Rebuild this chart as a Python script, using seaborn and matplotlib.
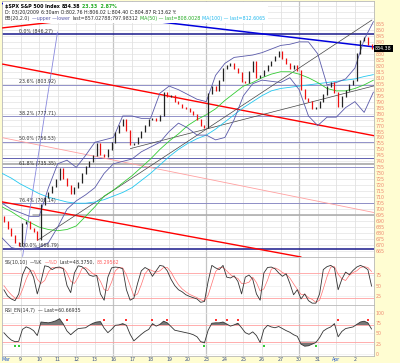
import matplotlib

matplotlib.use("Agg")

import matplotlib.pyplot as plt
import numpy as np
import pandas as pd
import seaborn as sns
from matplotlib.offsetbox import AnchoredOffsetbox, HPacker, TextArea, VPacker
from matplotlib.ticker import FuncFormatter

# trading days shown (Mar 6 .. Apr 2), 5 price bars per day
DAY_LABELS = ["Mar", "9", "10", "11", "12", "13", "16", "17", "18", "19", "20",
              "23", "24", "25", "26", "27", "30", "31", "Apr", "2"]
BARS_PER_DAY = 5
FIRST_OPEN = 694

CLOSE = [
    690, 684, 678, 672, 670,
    688, 690, 684, 681, 675,
    704, 710, 714, 719, 725,
    734, 726, 720, 713, 718,
    722, 730, 736, 740, 745,
    755, 746, 744, 750, 756,
    764, 770, 775, 766, 754,
    755, 760, 765, 770, 775,
    776, 774, 778, 798, 794,
    795, 790, 788, 785, 784,
    782, 779, 775, 770, 768,
    797, 803, 799, 808, 818,
    820, 822, 818, 814, 807,
    806, 815, 824, 810, 812,
    816, 820, 824, 828, 832,
    826, 822, 818, 820, 816,
    800, 793, 790, 784, 785,
    790, 796, 803, 806, 798,
    786, 794, 799, 804, 808,
    830, 841, 844, 838, 834.38,
]

# half-day samples of the overlays
BB_UPPER = [705, 700, 697, 694, 694, 718, 738, 741, 735, 745, 756, 758, 760, 778,
            778, 776, 776, 797, 803, 800, 796, 792, 790, 812, 822, 827, 828, 829,
            831, 834, 837, 838, 840, 840, 830, 804, 806, 809, 818, 842, 857]
BB_LOWER = [676, 668, 666, 667, 668, 672, 685, 700, 707, 712, 718, 730, 738, 740,
            742, 748, 752, 756, 765, 772, 768, 762, 762, 758, 760, 775, 795, 805,
            808, 807, 806, 810, 800, 778, 770, 777, 777, 785, 790, 781, 798]
MA50 = [702, 698, 693, 689, 685, 683, 682, 683, 686, 694, 702, 711, 716, 722, 728,
        735, 742, 750, 757, 763, 770, 775, 779, 784, 791, 797, 803, 806, 810, 813,
        815, 815, 813, 810, 806, 801, 799, 799, 801, 804, 808]
MA100 = [730, 726, 721, 717, 713, 710, 708, 706, 705, 705, 706, 708, 711, 714, 718,
         724, 730, 737, 744, 750, 755, 759, 762, 767, 773, 779, 785, 790, 795, 799,
         801, 802, 803, 804, 805, 806, 807, 808, 809, 811, 812.6]

# fibonacci retracement levels and other horizontal levels
FIB_PCT = ["0.0%", "23.6%", "38.2%", "50.0%", "61.8%", "76.4%", "100.0%"]
FIB_LEVEL = [846.27, 803.92, 777.71, 756.53, 735.35, 705.0, 666.79]
FIB_TEXT = [846.27, 803.92, 777.71, 756.53, 735.35, 709.14, 666.79]
NAVY_LEVELS = [742.5]
GRAY_LEVELS = [737.5]
GRAY_SHORT = (1.65, 695.0)

# trend lines: (day0, price0, day1, price1)
RED_THICK = [(0.03, 851.7, 10.0, 869.5), (0.03, 821.4, 20.03, 761.5),
             (-0.1, 706.4, 16.1, 660.0)]
PINK_THIN = [(0.03, 759.8, 20.03, 697.2)]
BLUE_THICK = [(0.0, 872.1, 20.03, 835.8)]
BLACK_THIN = [(1.91, 673.9, 19.92, 858.3), (6.91, 750.7, 20.03, 803.2)]
SLATE_THIN = [(1.11, 660.5, 2.99, 848.3)]

# full stochastic, one value per bar
STO_K = [40, 25, 18, 14, 30, 75, 95, 88, 70, 30, 60, 97, 95, 88, 93, 94, 90, 50, 33, 80,
         97, 95, 88, 75, 72, 74, 30, 15, 70, 92, 94, 93, 90, 40, 15, 20, 55, 85, 93, 88,
         72, 85, 98, 96, 85, 65, 50, 40, 35, 28, 24, 21, 18, 10, 12, 60, 98, 92, 88, 98,
         70, 68, 73, 60, 30, 70, 75, 65, 30, 15, 80, 93, 94, 90, 80, 72, 78, 55, 28, 40,
         18, 30, 14, 8, 8, 30, 88, 95, 98, 92, 40, 65, 82, 76, 86, 94, 98, 94, 88, 48.4]
STO_D = [50, 38, 28, 20, 20, 40, 65, 85, 85, 65, 55, 62, 82, 93, 92, 92, 92, 80, 60, 55,
         70, 90, 93, 86, 78, 74, 60, 40, 38, 58, 85, 93, 92, 75, 50, 25, 30, 52, 78, 89,
         85, 82, 85, 93, 93, 82, 66, 52, 42, 35, 29, 25, 21, 16, 13, 27, 55, 83, 93, 93,
         85, 76, 70, 67, 55, 55, 58, 70, 57, 37, 42, 63, 89, 92, 88, 81, 77, 68, 54, 41,
         29, 29, 21, 17, 10, 15, 42, 71, 94, 95, 77, 66, 62, 74, 81, 85, 93, 95, 93, 83.3]

RSI = [52, 42, 34, 30, 31, 60, 66, 63, 57, 45, 78, 77, 76, 78, 81, 86, 73, 56, 47, 55,
       62, 63, 64, 70, 75, 78, 79, 63, 52, 60, 70, 71, 74, 70, 48, 32, 40, 48, 55, 60,
       74, 68, 72, 80, 76, 67, 58, 56, 54, 52, 50, 47, 42, 30, 27, 58, 75, 76, 76, 78,
       73, 68, 71, 75, 64, 52, 48, 54, 45, 28, 60, 70, 66, 64, 67, 62, 57, 53, 47, 43,
       24, 19, 20, 24, 28, 40, 56, 62, 66, 74, 42, 55, 62, 64, 66, 72, 78, 80, 76, 60.7]
SELL_BARS = [17, 27, 33, 40, 44, 57, 60, 63, 90, 98]
BUY_BARS = [3, 4, 54, 70, 84]

BG = "#FFFDD2"
SALMON = "#EE8870"
TXT = 3.4

sns.set_style("white")
plt.rcParams["font.family"] = ["DejaVu Sans"]

bars = pd.DataFrame({"close": CLOSE})
bars["x"] = (bars.index + 0.5) / BARS_PER_DAY
bars["open"] = [FIRST_OPEN] + CLOSE[:-1]
bars["lo"] = bars[["open", "close"]].min(axis=1)
bars["hi"] = bars[["open", "close"]].max(axis=1)
bars["up"] = bars["close"] >= bars["open"]
bars["k"] = STO_K
bars["d"] = STO_D
bars["rsi"] = RSI

over = pd.DataFrame({"upper": BB_UPPER, "lower": BB_LOWER, "ma50": MA50, "ma100": MA100})
over["x"] = over.index / 2

fig = plt.figure(figsize=(4.0, 3.63), dpi=100, facecolor=BG)


def box(x0, y0, x1, y1):
    return [x0 / 400, 1 - y1 / 363, (x1 - x0) / 400, (y1 - y0) / 363]


ax = fig.add_axes(box(2, 1, 374, 257))
ax_ss = fig.add_axes(box(2, 257, 374, 305), sharex=ax)
ax_rsi = fig.add_axes(box(2, 305, 374, 356), sharex=ax)

for a in (ax, ax_ss, ax_rsi):
    a.set_facecolor("white")
    for s in a.spines.values():
        s.set_color("#B8B8B8")
        s.set_linewidth(0.6)
    for d in range(1, len(DAY_LABELS)):
        week = DAY_LABELS[d - 1] in ("13", "20", "27")
        a.axvline(d, color="#C4C4C4" if week else "#DCDCDC", lw=0.9 if week else 0.5, zorder=0)
    a.yaxis.tick_right()
    a.tick_params(axis="y", length=0, pad=1, labelsize=TXT, labelcolor=SALMON)
    a.tick_params(axis="x", length=0, pad=1, labelsize=TXT)

# ---- price panel
ax.set_xlim(0.032, 20.03)
ax.set_ylim(660.5, 874.2)
ax.set_yticks(np.arange(660, 875, 5))
# the last-price box sits over the 835 label
ax.yaxis.set_major_formatter(
    FuncFormatter(lambda v, p: f"{v:.0f}" if 665 <= v <= 855 and round(v) != 835 else ""))
ax.yaxis.grid(True, color="#E0E0E0", lw=0.45)
ax.tick_params(labelbottom=False)

for lvl, pct, val in zip(FIB_LEVEL, FIB_PCT, FIB_TEXT):
    edge = pct in ("0.0%", "100.0%")
    ax.axhline(lvl, color="#1A1A8C" if edge else "#8080C0", lw=1.1 if edge else 0.6, zorder=2)
    ax.text(0.93, lvl + 0.6, f"{pct} ({val:.2f})", fontsize=TXT, color="#333333",
            va="bottom", ha="left", zorder=6)
for lvl in NAVY_LEVELS:
    ax.axhline(lvl, color="#6060B0", lw=0.7, zorder=2)
for lvl in GRAY_LEVELS:
    ax.axhline(lvl, color="#A0A0A0", lw=1.1, zorder=2)
ax.plot([GRAY_SHORT[0], 20.03], [GRAY_SHORT[1]] * 2, color="#A8A8A8", lw=1.1, zorder=2)

for group, color, lw in [(PINK_THIN, "#FFA0A0", 0.6), (RED_THICK, "#FF0000", 1.0),
                         (BLUE_THICK, "#0000DD", 1.1), (BLACK_THIN, "#444444", 0.5),
                         (SLATE_THIN, "#8888DD", 0.6)]:
    for x0, y0, x1, y1 in group:
        ax.plot([x0, x1], [y0, y1], color=color, lw=lw, zorder=3)

sns.lineplot(data=over, x="x", y="ma100", ax=ax, color="#22C8F0", lw=0.6, zorder=4)
sns.lineplot(data=over, x="x", y="ma50", ax=ax, color="#33CC33", lw=0.6, zorder=4)
sns.lineplot(data=over, x="x", y="upper", ax=ax, color="#5A5AAA", lw=0.6, zorder=4)
sns.lineplot(data=over, x="x", y="lower", ax=ax, color="#5A5AAA", lw=0.6, zorder=4)

up = bars[bars["up"]]
dn = bars[~bars["up"]]
ax.vlines(up["x"], up["lo"] - 0.4, up["hi"] + 0.4, color="#222222", lw=0.9, zorder=5)
ax.vlines(dn["x"], dn["lo"] - 0.4, dn["hi"] + 0.4, color="#EE1111", lw=0.9, zorder=5)
ax.set_xlabel("")
ax.set_ylabel("")

ax.text(1.002, CLOSE[-1], f"{CLOSE[-1]:.2f}", transform=ax.get_yaxis_transform(),
        fontsize=TXT, color="white", va="center", ha="left", zorder=10, clip_on=False,
        bbox=dict(boxstyle="square,pad=0.25", facecolor="black", edgecolor="none"))


def text_row(parts, bold=False):
    kids = [TextArea(t, textprops=dict(color=c, size=TXT, weight="bold" if bold else "normal"))
            for t, c in parts]
    return HPacker(children=kids, align="baseline", pad=0, sep=1.5)


header = VPacker(children=[
    text_row([(r"\$SPX S&P 500 Index", "black"), ("834.38", "black"),
              ("23.33  2.87%", "#22AA22")], bold=True),
    text_row([("D: 03/20/2009", "#222222"),
              ("6:30am O:802.76 H:806.02 L:804.40 C:804.87 R:13.62 Y:", "#222222")]),
    text_row([("BB(20,2.0)", "#333333"), ("\u2014upper \u2014lower", "#5A5AAA"),
              ("last=857.02788;797.98312", "#333333"), ("MA(50) \u2014 last=808.0028", "#22AA22"),
              ("MA(100) \u2014 last=812.6065", "#22B8EE")]),
], align="left", pad=0, sep=0.8)
hbox = AnchoredOffsetbox(loc="upper left", child=header, pad=0.15, borderpad=0.05, frameon=True)
hbox.patch.set_facecolor("white")
hbox.patch.set_edgecolor("none")
hbox.set_zorder(8)
ax.add_artist(hbox)

# ---- stochastic panel
ax_ss.set_ylim(3.6, 118)
ax_ss.set_yticks([25, 50, 75])
ax_ss.yaxis.grid(True, color="#EBEBEB", lw=0.45)
for lvl in (20, 80):
    ax_ss.axhline(lvl, color="#FFA0A0", lw=0.6)
sns.lineplot(data=bars, x="x", y="d", ax=ax_ss, color="#FF7070", lw=0.5)
sns.lineplot(data=bars, x="x", y="k", ax=ax_ss, color="#333333", lw=0.6)
ax_ss.set_xlabel("")
ax_ss.set_ylabel("")
ax_ss.tick_params(labelbottom=False)
ss_label = text_row([("SS(10,10)", "#333333"), ("\u2014%K", "#333333"), ("\u2014%D", "#FF6060"),
                     ("Last=48.3750,", "#333333"), ("83.29562", "#FF6060")])
ax_ss.add_artist(AnchoredOffsetbox(loc="upper left", child=ss_label, pad=0.1, borderpad=0.1,
                                   frameon=False))

# ---- RSI panel
ax_rsi.set_ylim(-4.9, 119.5)
ax_rsi.set_yticks([0, 25, 50, 75, 100])
ax_rsi.yaxis.grid(True, color="#EBEBEB", lw=0.45)
for lvl in (30, 70):
    ax_rsi.axhline(lvl, color="#FFA0A0", lw=0.6)
ax_rsi.fill_between(bars["x"], bars["rsi"], 70, where=bars["rsi"] > 70, interpolate=True,
                    color="#777777", lw=0)
ax_rsi.fill_between(bars["x"], bars["rsi"], 30, where=bars["rsi"] < 30, interpolate=True,
                    color="#777777", lw=0)
sns.lineplot(data=bars, x="x", y="rsi", ax=ax_rsi, color="#333333", lw=0.6)
sells = bars.loc[SELL_BARS]
buys = bars.loc[BUY_BARS]
ax_rsi.scatter(sells["x"], [83] * len(sells), s=1.5, color="#FF3333", marker="s", lw=0)
ax_rsi.scatter(buys["x"], [19] * len(buys), s=1.5, color="#33CC33", marker="s", lw=0)
ax_rsi.set_xlabel("")
ax_rsi.set_ylabel("")
rsi_label = text_row([("RSI_EN(14,7)", "#333333"), ("\u2014 Last=60.66935", "#333333")])
ax_rsi.add_artist(AnchoredOffsetbox(loc="upper left", child=rsi_label, pad=0.1, borderpad=0.1,
                                    frameon=False))

ax_rsi.set_xticks(range(len(DAY_LABELS)))
ax_rsi.set_xticklabels(DAY_LABELS)
for lab in ax_rsi.get_xticklabels():
    month = lab.get_text() in ("Mar", "Apr")
    lab.set_color("#1F55CC" if month else "#3A4F88")
    if lab.get_text() == "Mar":
        lab.set_ha("left")

fig.savefig("out.png", dpi=100, facecolor=BG)
